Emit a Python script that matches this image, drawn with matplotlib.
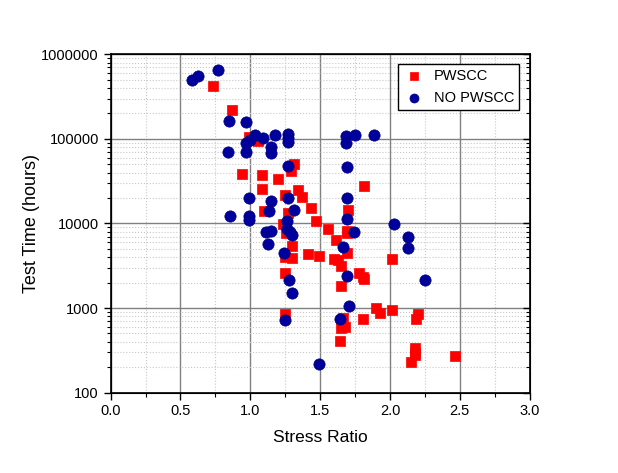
import matplotlib
matplotlib.use("Agg")
import matplotlib.pyplot as plt
from matplotlib.ticker import MultipleLocator, LogLocator, NullFormatter, FixedLocator
import numpy as np

plt.rcParams['font.family'] = ['Liberation Sans', 'DejaVu Sans']

# PWSCC (red squares)
pw_x = [0.735, 0.87, 0.99, 1.057, 0.94, 1.085, 1.197, 1.087, 1.312, 1.29,
        1.345, 1.369, 1.245, 1.10, 1.27, 1.436, 1.70, 1.816, 1.47, 1.237,
        1.256, 1.556, 1.615, 1.692, 1.69, 1.30, 1.69, 1.245, 1.30, 1.41,
        1.49, 1.60, 1.625, 1.65, 1.245, 1.775, 1.81, 1.814, 1.65, 2.014,
        1.897, 1.93, 2.014, 1.667, 1.81, 1.247, 1.65, 1.68, 1.644, 2.198,
        2.19, 2.18, 2.177, 2.18, 2.15, 2.468]
pw_y = [424000, 222000, 106000, 95000, 38700, 37000, 34000, 25800, 51000, 41500,
        25200, 20700, 21900, 14100, 13200, 15400, 14300, 28000, 10800, 9900,
        7650, 8500, 6460, 7650, 8200, 5370, 4520, 4050, 3870, 4320,
        4120, 3830, 3700, 3140, 2620, 2620, 2350, 2190, 1820, 3800,
        1000, 865, 946, 767, 746, 840, 575, 590, 405, 850,
        746, 333, 291, 276, 229, 269]

# NO PWSCC (blue circles)
no_x = [0.583, 0.628, 0.767, 0.846, 0.972, 1.037, 1.09, 0.996, 0.97, 1.175,
        1.27, 1.27, 1.27, 1.147, 1.147, 0.839, 0.97, 1.27, 0.994, 1.149,
        1.27, 1.135, 1.316, 0.853, 0.994, 0.994, 1.266, 1.682, 1.682, 1.749,
        1.888, 1.69, 1.69, 1.69, 2.026, 1.113, 1.149, 1.266, 1.285, 1.297,
        1.125, 1.746, 2.129, 2.129, 1.663, 1.242, 1.69, 1.28, 1.30, 2.253,
        1.706, 1.245, 1.639, 1.495]
no_y = [504000, 552000, 661000, 163000, 160000, 111000, 102000, 97000, 89000, 111000,
        113000, 103000, 93000, 81000, 68300, 70700, 70700, 47900, 19900, 18300,
        19900, 14100, 14400, 12400, 12300, 11000, 10800, 109000, 89000, 111000,
        111000, 47000, 20000, 11200, 9870, 7870, 8150, 8510, 7870, 7380,
        5710, 7870, 6980, 5090, 5320, 4440, 2410, 2140, 1490, 2140,
        1060, 721, 735, 219]

fig = plt.figure(figsize=(6.18, 4.73), dpi=100)
ax = fig.add_axes([0.179, 0.170, 0.678, 0.715])

ax.scatter(pw_x, pw_y, marker='s', s=50, color='#ff0000', edgecolors='#ff0000',
           linewidths=0.5, label='PWSCC', zorder=3)
ax.scatter(no_x, no_y, marker='o', s=66, color='#00009c', edgecolors='#000080',
           linewidths=0.5, label='NO PWSCC', zorder=4)

ax.set_yscale('log')
ax.set_xlim(0, 3.0)
ax.set_ylim(100, 1000000)

ax.xaxis.set_major_locator(MultipleLocator(0.5))
ax.xaxis.set_minor_locator(MultipleLocator(0.25))
ax.xaxis.set_major_formatter(plt.FuncFormatter(lambda v, p: f"{v:.1f}"))
ax.yaxis.set_major_locator(FixedLocator([100, 1000, 10000, 100000, 1000000]))
ax.yaxis.set_major_formatter(plt.FuncFormatter(lambda v, p: f"{int(round(v))}"))
ax.yaxis.set_minor_locator(LogLocator(base=10, subs=np.arange(2, 10)))
ax.yaxis.set_minor_formatter(NullFormatter())

ax.grid(which='major', color='#808080', linewidth=1.0, linestyle='-', zorder=0)
ax.grid(which='minor', color='#c8c8c8', linewidth=0.8, linestyle=':', zorder=0)
ax.set_axisbelow(True)

ax.tick_params(which='major', direction='out', length=5, width=1, labelsize=10.5, colors='black')
ax.tick_params(which='minor', direction='out', length=3, width=0.8)
for s in ax.spines.values():
    s.set_linewidth(1.2)
    s.set_color('black')

# inward ticks on the right spine
ax2 = ax.twinx()
ax2.set_yscale('log')
ax2.set_ylim(100, 1000000)
ax2.yaxis.set_major_locator(FixedLocator([100, 1000, 10000, 100000, 1000000]))
ax2.yaxis.set_minor_locator(LogLocator(base=10, subs=np.arange(2, 10)))
ax2.yaxis.set_major_formatter(NullFormatter())
ax2.yaxis.set_minor_formatter(NullFormatter())
ax2.tick_params(which='major', direction='in', length=5, width=1)
ax2.tick_params(which='minor', direction='in', length=3, width=0.8)

ax.set_xlabel('Stress Ratio', fontsize=12.5, labelpad=8)
ax.set_ylabel('Test Time (hours)', fontsize=13, labelpad=0.5)

leg = ax.legend(loc='upper right', bbox_to_anchor=(0.975, 0.972), borderaxespad=0,
                fontsize=10.5, frameon=True, fancybox=False, edgecolor='black',
                framealpha=1, handletextpad=0.6, borderpad=0.35, labelspacing=0.55,
                handlelength=1.5, markerscale=0.8)
leg.get_frame().set_linewidth(1.0)
leg.set_zorder(10)

fig.savefig('out.png', dpi=100)
